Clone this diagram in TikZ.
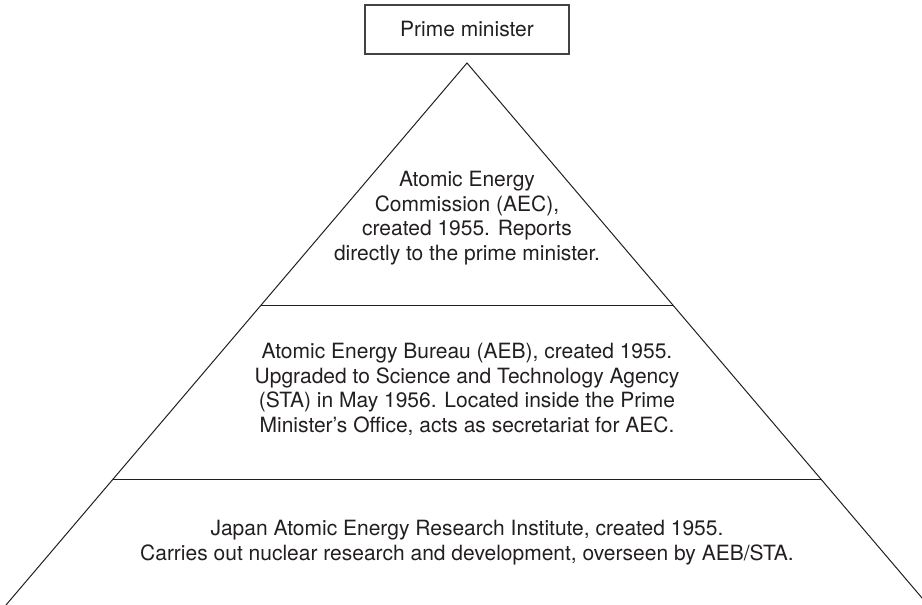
\documentclass[tikz,border=0pt]{standalone}
\usepackage{fontspec}
\setmainfont{TeX Gyre Heros}
\definecolor{ink}{HTML}{231F20}
\begin{document}
\begin{tikzpicture}[x=1pt,y=-1pt,
  edge/.style={draw=ink,line width=1pt},
  label/.style={text=ink,align=center,inner sep=0pt,anchor=north,
    font=\fontsize{21}{24.5}\selectfont},
  topbox/.style={draw=ink!85,line width=1.1pt,minimum width=204pt,minimum height=49pt,
    inner sep=0pt,text=ink,font=\fontsize{21}{24.5}\selectfont}]
  \useasboundingbox (0,0) rectangle (922,605);
  \begin{scope}
    \clip (0,0) rectangle (922,605);
    % pyramid outline and tier dividers
    \coordinate (apex) at (467,63);
    \coordinate (bl) at (6,605);
    \coordinate (br) at (928,605);
    \coordinate (l1) at (261,305);
    \coordinate (r1) at (673,305);
    \coordinate (l2) at (113,479.5);
    \coordinate (r2) at (821,479.5);
    \draw[edge] (bl) -- (apex) -- (br);
    \draw[edge] (l1) -- (r1);
    \draw[edge] (l2) -- (r2);
  \end{scope}
  \node[topbox] (pm) at (467,29.5) {Prime minister};
  \node[label] (aec) at (467,171) {Atomic Energy\\Commission (AEC),\\created 1955. Reports\\directly to the prime minister.};
  \node[label] (aeb) at (467,343) {Atomic Energy Bureau (AEB), created 1955.\\Upgraded to Science and Technology Agency\\(STA) in May 1956. Located inside the Prime\\Minister’s Office, acts as secretariat for AEC.};
  \node[label] (jaeri) at (467,520) {Japan Atomic Energy Research Institute, created 1955.\\Carries out nuclear research and development, overseen by AEB/STA.};
\end{tikzpicture}
\end{document}
